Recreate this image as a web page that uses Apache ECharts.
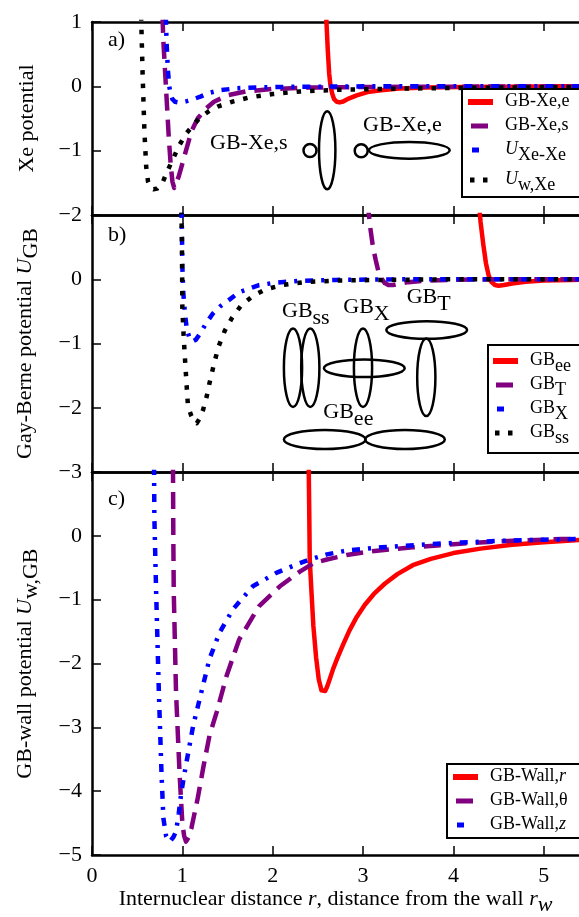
<!DOCTYPE html>
<html><head><meta charset="utf-8">
<script src="https://cdn.jsdelivr.net/npm/echarts@6/dist/echarts.min.js"></script>
<style>html,body{margin:0;padding:0;background:#fff}#c{width:579px;height:917px}</style>
</head><body><div id="c"></div>
<script>
const FONT = 'Liberation Serif';
const xTicks = [0, 1, 2, 3, 4, 5];
const xRange = [0, 5.39];
const yRangeA = [-2, 1], yRangeB = [-3, 1], yRangeC = [-5, 1];

// ---- panel a) Xe potential ----
const a_xeE_x = [2.58, 2.595, 2.61, 2.625, 2.64, 2.66, 2.68, 2.71, 2.74, 2.78, 2.84, 2.93, 3.05, 3.2, 3.4, 3.7, 4.1, 4.6, 5.2, 5.6];
const a_xeE_y = [1.5, 1.0, 0.55, 0.2, 0.0, -0.12, -0.2, -0.24, -0.25, -0.235, -0.19, -0.14, -0.09, -0.06, -0.035, -0.02, -0.01, -0.005, 0, 0];
const a_xeS_x = [0.77, 0.79, 0.81, 0.83, 0.85, 0.87, 0.89, 0.91, 0.93, 0.96, 1.00, 1.04, 1.10, 1.17, 1.25, 1.35, 1.5, 1.7, 2.0, 2.4, 3.0, 4.0, 5.6];
const a_xeS_y = [1.5, 0.7, 0.2, -0.3, -0.8, -1.2, -1.48, -1.58, -1.55, -1.4, -1.2, -1.0, -0.7, -0.5, -0.36, -0.24, -0.14, -0.08, -0.04, -0.02, -0.01, -0.005, 0];
const a_xeXe_x = [0.81, 0.825, 0.84, 0.855, 0.87, 0.89, 0.92, 0.96, 1.0, 1.05, 1.12, 1.2, 1.3, 1.42, 1.6, 1.85, 2.2, 3.0, 5.6];
const a_xeXe_y = [1.5, 0.7, 0.25, 0.0, -0.12, -0.2, -0.24, -0.25, -0.245, -0.23, -0.2, -0.16, -0.1, -0.06, -0.03, -0.015, -0.008, 0, 0];
const a_wXe_x = [0.54, 0.56, 0.58, 0.60, 0.62, 0.65, 0.68, 0.72, 0.78, 0.84, 0.90, 0.96, 1.04, 1.12, 1.20, 1.30, 1.40, 1.55, 1.75, 2.0, 2.3, 2.7, 3.2, 4.0, 5.0, 5.6];
const a_wXe_y = [1.3, 0.2, -0.7, -1.25, -1.48, -1.58, -1.6, -1.59, -1.5, -1.3, -1.12, -0.93, -0.74, -0.6, -0.48, -0.38, -0.31, -0.24, -0.17, -0.12, -0.08, -0.055, -0.04, -0.025, -0.015, -0.012];

// ---- panel b) Gay-Berne potential ----
const b_ee_x = [4.27, 4.30, 4.33, 4.36, 4.39, 4.42, 4.46, 4.50, 4.56, 4.65, 4.8, 5.0, 5.3, 5.6];
const b_ee_y = [1.4, 0.9, 0.55, 0.25, 0.06, -0.04, -0.09, -0.1, -0.09, -0.065, -0.04, -0.02, -0.01, 0];
const b_T_x = [3.05, 3.08, 3.11, 3.14, 3.17, 3.20, 3.24, 3.28, 3.33, 3.40, 3.5, 3.7, 4.0, 4.5, 5.6];
const b_T_y = [1.2, 0.8, 0.5, 0.3, 0.12, 0.02, -0.06, -0.09, -0.09, -0.07, -0.045, -0.02, -0.01, 0, 0];
const b_X_x = [0.985, 0.995, 1.00, 1.01, 1.03, 1.05, 1.08, 1.11, 1.15, 1.20, 1.27, 1.34, 1.42, 1.5, 1.63, 1.85, 2.05, 2.3, 2.7, 3.5, 5.6];
const b_X_y = [1.5, 0.8, 0.2, -0.2, -0.55, -0.78, -0.92, -0.97, -0.94, -0.84, -0.67, -0.53, -0.42, -0.34, -0.2, -0.09, -0.05, -0.025, -0.01, 0, 0];
const b_ss_x = [0.985, 0.995, 1.00, 1.015, 1.03, 1.045, 1.06, 1.08, 1.10, 1.13, 1.16, 1.19, 1.23, 1.27, 1.30, 1.35, 1.40, 1.47, 1.55, 1.65, 1.78, 1.92, 2.1, 2.35, 2.7, 3.2, 4.0, 5.6];
const b_ss_y = [1.5, 0.6, -0.45, -0.9, -1.26, -1.6, -1.93, -2.05, -2.13, -2.21, -2.24, -2.17, -2.03, -1.82, -1.62, -1.32, -1.05, -0.8, -0.6, -0.41, -0.26, -0.16, -0.09, -0.045, -0.02, -0.01, 0, 0];

// ---- panel c) GB-wall potential ----
const c_r_x = [2.395, 2.405, 2.41, 2.43, 2.45, 2.48, 2.51, 2.54, 2.56, 2.58, 2.60, 2.63, 2.67, 2.72, 2.78, 2.85, 2.93, 3.02, 3.12, 3.24, 3.38, 3.55, 3.75, 4.0, 4.3, 4.65, 5.0, 5.4];
const c_r_y = [1.5, 0.3, -0.37, -0.9, -1.41, -1.9, -2.25, -2.42, -2.45, -2.43, -2.37, -2.25, -2.08, -1.9, -1.7, -1.48, -1.27, -1.08, -0.91, -0.75, -0.6, -0.46, -0.36, -0.27, -0.2, -0.14, -0.1, -0.065];
const c_th_x = [0.895, 0.90, 0.905, 0.93, 0.97, 1.0, 1.02, 1.04, 1.07, 1.10, 1.17, 1.23, 1.30, 1.38, 1.49, 1.63, 1.85, 2.08, 2.30, 2.45, 2.6, 2.82, 3.1, 3.55, 4.0, 4.6, 5.2, 5.6];
const c_th_y = [1.5, 0.0, -0.89, -2.45, -3.75, -4.5, -4.7, -4.79, -4.72, -4.58, -4.11, -3.64, -3.13, -2.76, -2.19, -1.62, -1.10, -0.79, -0.56, -0.43, -0.37, -0.30, -0.24, -0.18, -0.13, -0.08, -0.05, -0.04];
const c_z_x = [0.685, 0.69, 0.71, 0.74, 0.77, 0.79, 0.82, 0.86, 0.90, 0.93, 0.96, 0.99, 1.04, 1.12, 1.21, 1.30, 1.41, 1.56, 1.78, 2.04, 2.26, 2.41, 2.6, 2.82, 3.2, 3.63, 4.0, 4.48, 5.0, 5.6];
const c_z_y = [1.5, 0.3, -0.89, -2.45, -3.75, -4.42, -4.7, -4.79, -4.72, -4.63, -4.35, -4.0, -3.59, -2.97, -2.45, -1.93, -1.52, -1.15, -0.79, -0.58, -0.45, -0.37, -0.29, -0.23, -0.18, -0.14, -0.11, -0.08, -0.06, -0.045];

const RED = '#ff0000', PURPLE = '#800080', BLUE = '#0000ff', BLACK = '#000000';
const DASH_PURPLE = [17, 9], DASHDOT_BLUE = [8, 8, 3, 8], DOT_BLACK = [4.5, 9];

function pairs(xs, ys) { return xs.map((x, i) => [x, ys[i]]); }
const minus = v => (v < 0 ? '\u2212' + Math.abs(v) : String(v));

const chart = echarts.init(document.getElementById('c'), null, { renderer: 'canvas' });

const grids = [
  { left: 92, top: 22, width: 487, height: 193 },
  { left: 92, top: 215, width: 487, height: 257 },
  { left: 92, top: 472, width: 487, height: 385 }
];
const yRanges = [yRangeA, yRangeB, yRangeC];

const richBase = (fs, lh, sub) => ({
  n: { fontFamily: FONT, fontSize: fs, lineHeight: lh, verticalAlign: 'top', color: '#000' },
  i: { fontFamily: FONT, fontSize: fs, lineHeight: lh, verticalAlign: 'top', fontStyle: 'italic', color: '#000' },
  s: { fontFamily: FONT, fontSize: fs, lineHeight: lh, verticalAlign: 'top', padding: [sub, 0, 0, 0], color: '#000' },
  si: { fontFamily: FONT, fontSize: fs, lineHeight: lh, verticalAlign: 'top', fontStyle: 'italic', padding: [sub, 0, 0, 0], color: '#000' }
});

const axisLine = { show: true, onZero: false, lineStyle: { color: '#000', width: 2.5 } };
const axisTick = { show: true, inside: true, length: 9, lineStyle: { color: '#000', width: 1.5 } };
const xTick = Object.assign({}, axisTick, { customValues: xTicks });

const xAxes = [], yAxes = [];
grids.forEach((g, k) => {
  xAxes.push({
    type: 'value', gridIndex: k, position: 'bottom', min: xRange[0], max: xRange[1], interval: 1,
    axisLine, axisTick: xTick, splitLine: { show: false },
    axisLabel: { show: k === 2, margin: 10, color: '#000', fontFamily: FONT, fontSize: 22, customValues: xTicks,
      formatter: v => (xTicks.indexOf(v) >= 0 ? minus(v) : '') },
    name: k === 2 ? '{n|Internuclear distance }{i|r}{n|, distance from the wall }{i|r}{si|w}' : '',
    nameLocation: 'middle', nameGap: 30,
    nameTextStyle: { rich: richBase(22, 22, 6) }
  });
  xAxes.push({
    type: 'value', gridIndex: k, position: 'top', min: xRange[0], max: xRange[1], interval: 1,
    axisLine, axisTick: xTick, splitLine: { show: false }, axisLabel: { show: false }
  });
  const yr = yRanges[k];
  const names = ['{n|Xe potential}', '{n|Gay-Berne potential }{i|U}{s|GB}', '{n|GB-wall potential }{i|U}{s|w,GB}'];
  yAxes.push({
    type: 'value', gridIndex: k, position: 'left', min: yr[0], max: yr[1], interval: 1,
    axisLine, axisTick, splitLine: { show: false },
    axisLabel: { margin: 10, color: '#000', fontFamily: FONT, fontSize: 22,
      formatter: v => (k > 0 && v === yr[1]) ? '' : minus(v) },
    name: names[k], nameLocation: 'middle', nameRotate: 90, nameGap: k === 0 ? 54 : 56,
    nameTextStyle: { rich: richBase(22, 22, 6) }
  });
});

function line(name, k, xs, ys, color, width, dash) {
  return {
    type: 'line', name, xAxisIndex: 2 * k, yAxisIndex: k, data: pairs(xs, ys),
    symbol: 'none', showSymbol: false, clip: true, silent: true,
    itemStyle: { color },
    lineStyle: { color, width, type: dash || 'solid', cap: 'butt', join: 'round' }
  };
}

const series = [
  line('GB-Xe,e', 0, a_xeE_x, a_xeE_y, RED, 4.5),
  line('GB-Xe,s', 0, a_xeS_x, a_xeS_y, PURPLE, 4.5, DASH_PURPLE),
  line('UXe-Xe', 0, a_xeXe_x, a_xeXe_y, BLUE, 4.5, DASHDOT_BLUE),
  line('Uw,Xe', 0, a_wXe_x, a_wXe_y, BLACK, 4.5, DOT_BLACK),
  line('GBee', 1, b_ee_x, b_ee_y, RED, 4.5),
  line('GBT', 1, b_T_x, b_T_y, PURPLE, 4.5, DASH_PURPLE),
  line('GBX', 1, b_X_x, b_X_y, BLUE, 4.5, DASHDOT_BLUE),
  line('GBss', 1, b_ss_x, b_ss_y, BLACK, 4.5, DOT_BLACK),
  line('GB-Wall,r', 2, c_r_x, c_r_y, RED, 4.5),
  line('GB-Wall,θ', 2, c_th_x, c_th_y, PURPLE, 4.5, DASH_PURPLE),
  line('GB-Wall,z', 2, c_z_x, c_z_y, BLUE, 4.5, DASHDOT_BLUE)
];

// legend handle icons (32 x 14 box)
const BOX = 'M0 0L0 0ZM32 14L32 14Z';
const ICON = {
  solid: BOX + 'M0 4H25V10H0Z',
  dash: BOX + 'M3 4.5H20V9.5H3Z',
  dashdot: BOX + 'M4 4.5H11V9.5H4Z',
  dot: BOX + 'M2 4.5H6.5V9.5H2ZM15 4.5H19.5V9.5H15Z'
};
const legendLabel = {
  'GB-Xe,e': '{n|GB-Xe,e}', 'GB-Xe,s': '{n|GB-Xe,s}', 'UXe-Xe': '{i|U}{s|Xe-Xe}', 'Uw,Xe': '{i|U}{s|w,Xe}',
  'GBee': '{n|GB}{s|ee}', 'GBT': '{n|GB}{s|T}', 'GBX': '{n|GB}{s|X}', 'GBss': '{n|GB}{s|ss}',
  'GB-Wall,r': '{n|GB-Wall,}{i|r}', 'GB-Wall,θ': '{n|GB-Wall,θ}', 'GB-Wall,z': '{n|GB-Wall,}{i|z}'
};
function legend(left, top, padding, gap, items) {
  return {
    show: true, orient: 'vertical', left, top, padding, itemGap: gap, itemWidth: 32, itemHeight: 14,
    borderColor: '#000', borderWidth: 2, borderRadius: 0, backgroundColor: '#fff', selectedMode: false,
    itemStyle: { borderWidth: 0 },
    textStyle: { rich: richBase(18, 20, 6) },
    formatter: name => legendLabel[name],
    data: items.map(([name, icon, color]) => ({ name, icon: 'path://' + icon, itemStyle: { color, borderWidth: 0 } }))
  };
}
const legends = [
  legend(462, 89, [3, 30, 3, 6], 6, [['GB-Xe,e', ICON.solid, RED], ['GB-Xe,s', ICON.dash, PURPLE], ['UXe-Xe', ICON.dashdot, BLUE], ['Uw,Xe', ICON.dot, BLACK]]),
  legend(488, 345, [6, 30, 6, 5], 0, [['GBee', ICON.solid, RED], ['GBT', ICON.dash, PURPLE], ['GBX', ICON.dashdot, BLUE], ['GBss', ICON.dot, BLACK]]),
  legend(447, 764, [3, 30, 5, 6], 6, [['GB-Wall,r', ICON.solid, RED], ['GB-Wall,θ', ICON.dash, PURPLE], ['GB-Wall,z', ICON.dashdot, BLUE]])
];

// annotation drawings
const EL = (cx, cy, rx, ry) => ({ type: 'ellipse', shape: { cx, cy, rx, ry }, style: { fill: 'transparent', stroke: '#000', lineWidth: 2.5 }, z: 20, silent: true });
const TXT = (x, y, text, size) => ({ type: 'text', x, y, z: 20, silent: true,
  style: { text, fontFamily: FONT, fontSize: size || 22, fill: '#000', align: 'left', verticalAlign: 'middle', textAlign: 'left', textVerticalAlign: 'middle' } });
const RTXT = (x, yTop, text) => ({ type: 'text', x, y: yTop, z: 20, silent: true,
  style: { text, fill: '#000', align: 'left', verticalAlign: 'top', textAlign: 'left', textVerticalAlign: 'top', rich: richBase(22, 22, 7) } });

const graphic = [
  TXT(108, 40.6, 'a)'), TXT(108, 235.6, 'b)'), TXT(108, 499.6, 'c)'),
  TXT(210, 143.6, 'GB-Xe,s'), TXT(363, 125.3, 'GB-Xe,e'),
  EL(310, 150.5, 6.5, 6.5), EL(327.2, 150.3, 8.2, 39), EL(361.2, 150.8, 6.5, 6.5), EL(409.3, 150.3, 40.4, 8.4),
  RTXT(282, 318.3 - 18.4, '{n|GB}{s|ss}'), RTXT(343.3, 315 - 18.4, '{n|GB}{s|X}'),
  RTXT(406.7, 305 - 18.4, '{n|GB}{s|T}'), RTXT(323.3, 420 - 18.4, '{n|GB}{s|ee}'),
  EL(293, 367.8, 9.1, 39.2), EL(310.3, 367.8, 9.1, 39.2),
  EL(364.3, 368.3, 40.4, 8.8), EL(363, 367.8, 9.1, 39.2),
  EL(426.7, 330, 40.4, 8.8), EL(426.3, 377.3, 9.1, 38.8),
  EL(324.7, 439.5, 40.8, 9.5), EL(405, 439.5, 39.8, 9.5)
];

chart.setOption({
  animation: false,
  backgroundColor: '#fff',
  textStyle: { fontFamily: FONT },
  grid: grids,
  xAxis: xAxes,
  yAxis: yAxes,
  legend: legends,
  series,
  graphic
});
</script></body></html>
